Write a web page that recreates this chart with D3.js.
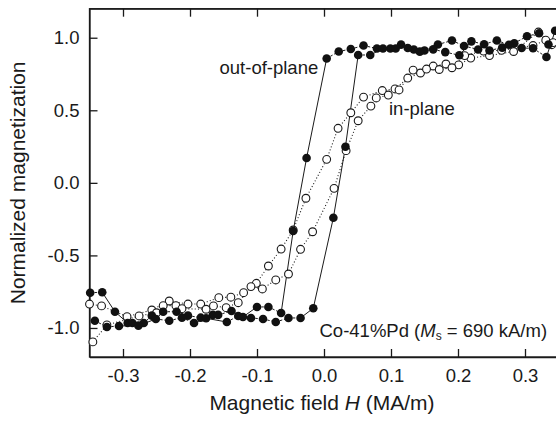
<!DOCTYPE html>
<html>
<head>
<meta charset="utf-8">
<script src="https://cdn.jsdelivr.net/npm/d3@7"></script>
<style>
  html, body { margin: 0; padding: 0; background: #fff; }
  svg { display: block; }
  text { font-family: "Liberation Sans", Arial, Helvetica, sans-serif; fill: #1a1a1a; }
</style>
</head>
<body>
<svg id="chart" width="556" height="421"></svg>
<script>
// ---- data (H in MA/m, M normalized) ----
const H_TICKS = [-0.3, -0.2, -0.1, 0.0, 0.1, 0.2, 0.3];
const M_TICKS = [-1.0, -0.5, 0.0, 0.5, 1.0];

// out-of-plane, descending field branch (listed in increasing H)
const oopDesc = [
  [-0.349,-0.757],[-0.331,-0.754],[-0.312,-0.888],[-0.293,-0.966],[-0.286,-0.966],[-0.269,-0.966],
  [-0.257,-0.915],[-0.240,-0.888],[-0.220,-0.888],[-0.203,-0.915],[-0.184,-0.929],[-0.166,-0.910],
  [-0.158,-0.910],[-0.138,-0.883],[-0.121,-0.924],[-0.100,-0.855],[-0.083,-0.855],[-0.064,-0.897],
  [-0.046,-0.332],[-0.026,0.171],[0.004,0.857],[0.022,0.905],[0.040,0.922],[0.059,0.946],
  [0.079,0.926],[0.099,0.926],[0.115,0.953],[0.134,0.919],[0.150,0.912],[0.170,0.953],
  [0.191,0.981],[0.209,0.943],[0.230,0.919],[0.247,0.912],[0.266,0.932],[0.284,0.962],
  [0.303,1.010],[0.321,1.031],[0.335,0.953]
];
// out-of-plane, ascending field branch
const oopAsc = [
  [-0.342,-0.950],[-0.324,-0.993],[-0.306,-0.986],[-0.277,-0.984],[-0.251,-0.938],[-0.231,-0.950],
  [-0.212,-0.929],[-0.194,-0.966],[-0.176,-0.933],[-0.145,-0.959],[-0.128,-0.917],[-0.109,-0.931],
  [-0.091,-0.938],[-0.072,-0.959],[-0.053,-0.931],[-0.035,-0.931],[-0.016,-0.864],[0.014,-0.240],
  [0.032,0.249],[0.051,0.881],[0.069,0.881],[0.088,0.926],[0.107,0.926],[0.125,0.929],
  [0.143,0.904],[0.163,0.920],[0.181,0.901],[0.202,0.879],[0.220,0.975],[0.239,0.955],
  [0.258,0.981],[0.276,0.952],[0.295,0.929],[0.312,0.927],[0.332,0.867],[0.345,1.048]
];
// in-plane, descending field branch
const ipDesc = [
  [-0.350,-0.835],[-0.332,-0.848],[-0.294,-0.922],[-0.257,-0.876],[-0.231,-0.814],[-0.203,-0.835],
  [-0.184,-0.835],[-0.157,-0.791],[-0.139,-0.788],[-0.120,-0.757],[-0.101,-0.692],[-0.083,-0.573],
  [-0.064,-0.456],[-0.046,-0.325],[-0.027,-0.106],[0.004,0.162],[0.021,0.376],[0.040,0.483],
  [0.059,0.591],[0.087,0.636],[0.106,0.647],[0.125,0.722],[0.144,0.757],[0.163,0.805],
  [0.182,0.819],[0.201,0.813],[0.219,0.860],[0.247,0.877],[0.283,0.905],[0.320,1.039],[0.340,0.952]
];
// in-plane, ascending field branch
const ipAsc = [
  [-0.345,-1.096],[-0.324,-0.979],[-0.276,-0.917],[-0.250,-0.895],[-0.240,-0.846],[-0.221,-0.846],
  [-0.212,-0.867],[-0.176,-0.871],[-0.165,-0.848],[-0.146,-0.860],[-0.128,-0.826],[-0.109,-0.715],
  [-0.092,-0.731],[-0.072,-0.669],[-0.053,-0.628],[-0.035,-0.458],[-0.017,-0.337],[0.015,-0.038],
  [0.033,0.222],[0.051,0.428],[0.070,0.529],[0.078,0.585],[0.096,0.605],[0.112,0.640],
  [0.133,0.777],[0.153,0.784],[0.172,0.781],[0.191,0.793],[0.210,0.877],[0.238,0.908],
  [0.265,0.913],[0.312,0.946],[0.331,0.983],[0.342,0.966]
];

// ---- drawing ----
const svg = d3.select("#chart");
const x = d3.scaleLinear().domain([-0.35, 0.35]).range([89.5, 558.5]);
const y = d3.scaleLinear().domain([-1.2, 1.2]).range([357, 8.7]);
const fmt = d => d.toFixed(1);
const INK = "#1a1a1a";

// frame
svg.append("rect")
  .attr("x", x(-0.35)).attr("y", y(1.2))
  .attr("width", x(0.35) - x(-0.35)).attr("height", y(-1.2) - y(1.2))
  .attr("fill", "none").attr("stroke", INK).attr("stroke-width", 1.3);

// bottom axis
const gx = svg.append("g").attr("transform", `translate(0,${y(-1.2)})`)
  .call(d3.axisBottom(x).tickValues(H_TICKS).tickFormat(fmt).tickSizeInner(-8).tickSizeOuter(0).tickPadding(12));
// top axis ticks
const gxt = svg.append("g").attr("transform", `translate(0,${y(1.2)})`)
  .call(d3.axisTop(x).tickValues(H_TICKS).tickFormat("").tickSizeInner(-8).tickSizeOuter(0));
// left axis
const gy = svg.append("g").attr("transform", `translate(${x(-0.35)},0)`)
  .call(d3.axisLeft(y).tickValues(M_TICKS).tickFormat(fmt).tickSizeInner(-8).tickSizeOuter(0).tickPadding(10));

[gx, gxt, gy].forEach(g => {
  g.select(".domain").attr("stroke", INK).attr("stroke-width", 1.3);
  g.selectAll(".tick line").attr("stroke", INK).attr("stroke-width", 1.3);
  g.selectAll(".tick text").attr("font-size", 18.5).attr("fill", INK)
    .attr("font-family", '"Liberation Sans", Arial, sans-serif');
});

// connecting lines (long steep segments solid for filled series)
function drawSegments(data, dashShort, dashLong, width) {
  const segs = d3.pairs(data);
  svg.append("g").selectAll("line").data(segs).join("line")
    .attr("x1", d => x(d[0][0])).attr("y1", d => y(d[0][1]))
    .attr("x2", d => x(d[1][0])).attr("y2", d => y(d[1][1]))
    .attr("stroke", INK).attr("stroke-width", width)
    .attr("stroke-dasharray", d => {
      const len = Math.hypot(x(d[1][0]) - x(d[0][0]), y(d[1][1]) - y(d[0][1]));
      return len > 16 ? dashLong : dashShort;
    });
}
drawSegments(ipDesc, "1,2.2", "1,2.2", 1.1);
drawSegments(ipAsc, "1,2.2", "1,2.2", 1.1);
drawSegments(oopDesc, "2.5,1.8", null, 1.0);
drawSegments(oopAsc, "2.5,1.8", null, 1.0);

// markers
[ipDesc, ipAsc].forEach(arr => {
  svg.append("g").selectAll("circle").data(arr).join("circle")
    .attr("cx", d => x(d[0])).attr("cy", d => y(d[1])).attr("r", 3.9)
    .attr("fill", "#fff").attr("stroke", INK).attr("stroke-width", 1.1);
});
[oopDesc, oopAsc].forEach(arr => {
  svg.append("g").selectAll("circle").data(arr).join("circle")
    .attr("cx", d => x(d[0])).attr("cy", d => y(d[1])).attr("r", 4.3)
    .attr("fill", "#111");
});

// annotations
svg.append("text").attr("x", 219.5).attr("y", 73.5).attr("font-size", 18.5).text("out-of-plane");
svg.append("text").attr("x", 389).attr("y", 114.5).attr("font-size", 18.5).text("in-plane");

const ann = svg.append("text").attr("x", 319.5).attr("y", 336.7).attr("font-size", 18.5);
ann.append("tspan").text("Co-41%Pd (");
ann.append("tspan").attr("font-style", "italic").text("M");
ann.append("tspan").attr("font-size", 12).attr("dy", 3).text("s");
ann.append("tspan").attr("dy", -3).text(" = 690 kA/m)");

// axis titles
const xt = svg.append("text").attr("x", 322).attr("y", 410).attr("text-anchor", "middle").attr("font-size", 21);
xt.append("tspan").text("Magnetic field ");
xt.append("tspan").attr("font-style", "italic").text("H");
xt.append("tspan").text(" (MA/m)");

svg.append("text")
  .attr("transform", `translate(25,${(y(-1.2) + y(1.2)) / 2}) rotate(-90)`)
  .attr("text-anchor", "middle").attr("font-size", 21)
  .text("Normalized magnetization");
</script>
</body>
</html>
